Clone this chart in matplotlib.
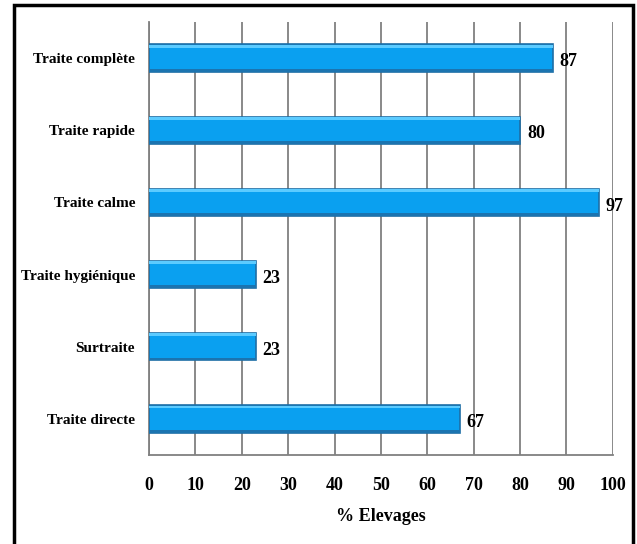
import matplotlib
matplotlib.use("Agg")
import matplotlib.pyplot as plt
from matplotlib.patches import Rectangle

plt.rcParams['font.family'] = 'Liberation Serif'
plt.rcParams['font.weight'] = 'bold'

# Pratiques de traite (% d'élevages)
categories = ['Traite complète', 'Traite rapide', 'Traite calme',
              'Traite hygiénique', 'Surtraite', 'Traite directe']
values = [87, 80, 97, 23, 23, 67]
xticks = list(range(0, 101, 10))

fig = plt.figure(figsize=(6.37, 5.44), dpi=100)
ax = fig.add_axes([0.234, 0.1636, 0.728, 0.796])

ypos = list(range(len(categories)))
bar_h = 0.38

# main bar body, darker outline at the bottom edge, light highlight on top
ax.barh(ypos, values, height=bar_h, color='#0AA0F0', edgecolor='#1E6EA6',
        linewidth=1.2, zorder=3)
ax.barh([y - bar_h / 2 + 0.025 for y in ypos], values, height=0.04,
        color='#5CCBFF', linewidth=0, zorder=4)
ax.barh([y + bar_h / 2 - 0.02 for y in ypos], values, height=0.04,
        color='#1B74B0', linewidth=0, zorder=4)

for y, v in zip(ypos, values):
    ax.text(v + 1.5, y + 0.05, f'{v}', ha='left', va='center',
            fontsize=13, fontweight='bold', zorder=5)

ax.set_xlim(0, 100)
ax.set_ylim(len(categories) - 0.5, -0.5)
ax.set_xticks(xticks)
ax.set_yticks(ypos)
ax.set_yticklabels(categories, fontsize=11, fontweight='bold')
ax.tick_params(axis='both', length=0)
ax.tick_params(axis='x', pad=16, labelsize=13)
ax.tick_params(axis='y', pad=10)
for lbl in ax.get_xticklabels():
    lbl.set_fontweight('bold')

ax.grid(axis='x', color='#808080', linewidth=1.3, zorder=0)
ax.set_axisbelow(True)
for side in ('top', 'right'):
    ax.spines[side].set_visible(False)
for side in ('left', 'bottom'):
    ax.spines[side].set_color('#808080')
    ax.spines[side].set_linewidth(1.3)

ax.set_xlabel('% Elevages', fontsize=13, fontweight='bold', labelpad=10)

# outer frame around the chart
fig.patches.append(Rectangle((0.022, -0.05), 0.971, 1.04,
                             transform=fig.transFigure, fill=False,
                             edgecolor='black', linewidth=2.5))

fig.savefig('out.png', dpi=100)
